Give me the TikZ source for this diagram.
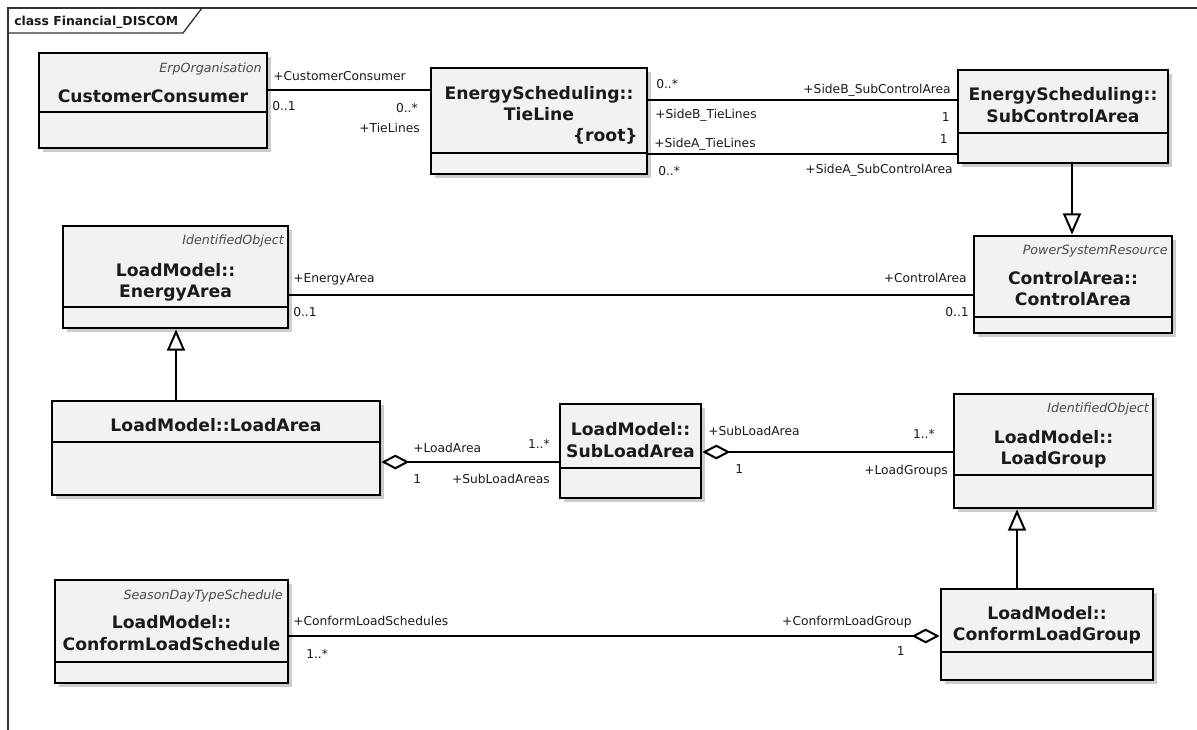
\documentclass[tikz,border=0pt]{standalone}
\usepackage{fontspec}
\setmainfont{DejaVu Sans}
\usetikzlibrary{fit,arrows.meta}
\definecolor{boxfill}{HTML}{F2F2F2}
\definecolor{inkc}{HTML}{1A1A1A}
\definecolor{stereoc}{HTML}{4A4A4A}

\tikzset{
  classbox/.style={draw=black, line width=2pt, fill=boxfill, inner sep=0pt},
  shade box/.style={fill=black!20},
  divider/.style={line width=1.6pt},
  nm/.style={font=\bfseries\fontsize{12.9}{15}\selectfont, anchor=base, inner sep=0pt, text=inkc},
  st/.style={font=\itshape\fontsize{9.5}{11}\selectfont, anchor=base east, inner sep=0pt, text=stereoc},
  lbl/.style={font=\fontsize{9.2}{11}\selectfont, inner sep=0pt, text=inkc},
  lw/.style={lbl, anchor=base west},
  le/.style={lbl, anchor=base east},
  assoc/.style={line width=1.5pt},
  gen/.style={line width=1.5pt, -{Triangle[open, length=16pt, width=13.5pt, line width=1.5pt]}},
  agg/.style={line width=1.5pt, {Diamond[open, length=21pt, width=11pt, line width=1.5pt]}-},
  frameline/.style={line width=1pt, draw=black!80},
}

% class box: name, x1, y1, x2, y2, y of the compartment divider
\newcommand\umlbox[6]{%
  \fill[shade box] (#2+4,#3+4) rectangle (#4+4,#5+4);
  \node[classbox, fit={(#2,#3) (#4,#5)}] (#1) {};
  \draw[divider] (#2,#6) -- (#4,#6);
}

\begin{document}
\begin{tikzpicture}[x=0.75pt, y=-0.75pt]
\useasboundingbox (0,0) rectangle (1197,729);

% diagram frame with its name tab
\draw[frameline] (8,760) -- (8,8) -- (1220,8);
\draw[frameline] (8,33) -- (183,33) -- (202,8);
\node[anchor=base west, inner sep=0pt, font=\bfseries\fontsize{9.3}{11}\selectfont, text=inkc] (title) at (14,25) {class Financial\_DISCOM};

% classes
\umlbox{cc}{39}{53}{267}{148}{112}
\node[st] (cc-s) at (262,72) {ErpOrganisation};
\node[nm] (cc-n) at (153,102) {CustomerConsumer};

\umlbox{tie}{431}{68}{647}{174}{153}
\node[nm] (tie-n1) at (539,99) {EnergyScheduling::};
\node[nm] (tie-n2) at (539,120) {TieLine};
\node[nm, anchor=base east] (tie-r) at (638,141) {\{root\}};

\umlbox{sca}{958}{70}{1168}{163}{133}
\node[nm] (sca-n1) at (1063,100) {EnergyScheduling::};
\node[nm] (sca-n2) at (1063,122) {SubControlArea};

\umlbox{ea}{63}{226}{288}{328}{307}
\node[st] (ea-s) at (284,244) {IdentifiedObject};
\node[nm] (ea-n1) at (175.5,276) {LoadModel::};
\node[nm] (ea-n2) at (175.5,297) {EnergyArea};

\umlbox{ca}{974}{236}{1172}{333}{317}
\node[st] (ca-s) at (1168,254) {PowerSystemResource};
\node[nm] (ca-n1) at (1073,284) {ControlArea::};
\node[nm] (ca-n2) at (1073,305) {ControlArea};

\umlbox{la}{52}{401}{380}{495}{442}
\node[nm] (la-n) at (216,431) {LoadModel::LoadArea};

\umlbox{sla}{560}{404}{701}{498}{468}
\node[nm] (sla-n1) at (630.5,435) {LoadModel::};
\node[nm] (sla-n2) at (630.5,457) {SubLoadArea};

\umlbox{lg}{954}{394}{1153}{508}{475}
\node[st] (lg-s) at (1149,412) {IdentifiedObject};
\node[nm] (lg-n1) at (1053.5,443) {LoadModel::};
\node[nm] (lg-n2) at (1053.5,464) {LoadGroup};

\umlbox{clg}{941}{589}{1153}{680}{652}
\node[nm] (clg-n1) at (1047,619) {LoadModel::};
\node[nm] (clg-n2) at (1047,640) {ConformLoadGroup};

\umlbox{cls}{55}{580}{288}{683}{662}
\node[st] (cls-s) at (283,599) {SeasonDayTypeSchedule};
\node[nm] (cls-n1) at (171.5,628) {LoadModel::};
\node[nm] (cls-n2) at (171.5,650) {ConformLoadSchedule};

% associations
\draw[assoc] (cc.east |- 0,90) -- (tie.west |- 0,90);
\node[lw] (l1a) at (273,80) {+CustomerConsumer};
\node[lw] (l1b) at (272,110) {0..1};
\node[le] (l1c) at (418,112) {0..*};
\node[le] (l1d) at (420,132) {+TieLines};

\draw[assoc] (tie.east |- 0,100) -- (sca.west |- 0,100);
\node[lw] (l2a) at (656,88) {0..*};
\node[lw] (l2b) at (655,118) {+SideB\_TieLines};
\node[le] (l2c) at (951,93) {+SideB\_SubControlArea};
\node[le] (l2d) at (950,121) {1};

\draw[assoc] (tie.east |- 0,154) -- (sca.west |- 0,154);
\node[lw] (l3a) at (654,147) {+SideA\_TieLines};
\node[lw] (l3b) at (658,175) {0..*};
\node[le] (l3c) at (948,143) {1};
\node[le] (l3d) at (953,173) {+SideA\_SubControlArea};

\draw[assoc] (ea.east |- 0,295) -- (ca.west |- 0,295);
\node[lw] (l4a) at (293,282) {+EnergyArea};
\node[lw] (l4b) at (293,316) {0..1};
\node[le] (l4c) at (967,282) {+ControlArea};
\node[le] (l4d) at (969,316) {0..1};

% aggregations
\draw[agg] (la.east |- 0,462) -- (sla.west |- 0,462);
\node[lw] (l5a) at (413,452) {+LoadArea};
\node[lw] (l5b) at (413,483) {1};
\node[le] (l5c) at (550,448) {1..*};
\node[le] (l5d) at (550,483) {+SubLoadAreas};

\draw[agg] (sla.east |- 0,452) -- (lg.west |- 0,452);
\node[lw] (l6a) at (708,435) {+SubLoadArea};
\node[lw] (l6b) at (735,473) {1};
\node[le] (l6c) at (935,438) {1..*};
\node[le] (l6d) at (948,474) {+LoadGroups};

\draw[agg] (clg.west |- 0,636) -- (cls.east |- 0,636);
\node[lw] (l7a) at (293,625) {+ConformLoadSchedules};
\node[lw] (l7b) at (306,658) {1..*};
\node[le] (l7c) at (912,625) {+ConformLoadGroup};
\node[le] (l7d) at (905,655) {1};

% generalizations
\draw[gen] (sca.south -| 1072,0) -- (ca.north -| 1072,0);
\draw[gen] (la.north -| 176,0) -- (ea.south -| 176,0);
\draw[gen] (clg.north -| 1017,0) -- (lg.south -| 1017,0);
\end{tikzpicture}
\end{document}
